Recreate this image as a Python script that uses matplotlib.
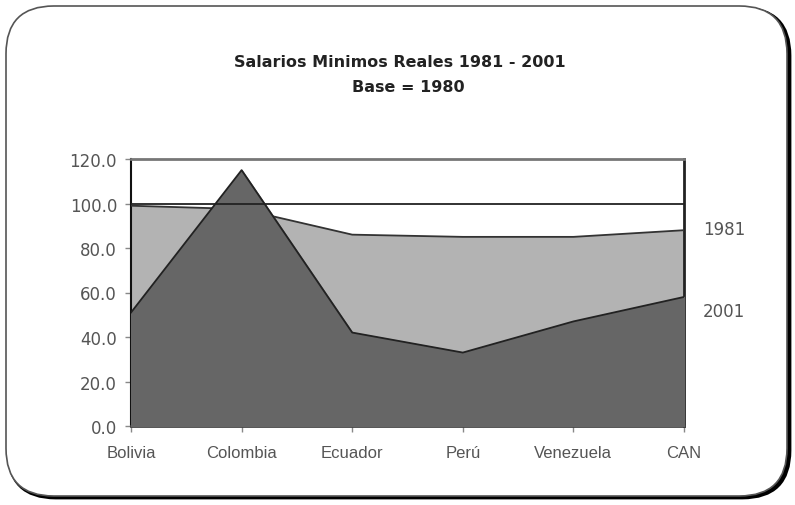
import matplotlib.pyplot as plt
from matplotlib.patches import FancyBboxPatch

# -- datos ---------------------------------------------------------------
paises = ["Bolivia", "Colombia", "Ecuador", "Perú", "Venezuela", "CAN"]
sal_1981 = [99.0, 97.5, 86.0, 85.0, 85.0, 88.0]
sal_2001 = [51.0, 115.0, 42.0, 33.0, 47.0, 58.0]
yticks = [0, 20, 40, 60, 80, 100, 120]

plt.rcParams['font.family'] = ['Liberation Sans', 'DejaVu Sans']

fig = plt.figure(figsize=(7.95, 5.06), dpi=100)

# -- marco redondeado con sombra ------------------------------------------
W, H = 795, 506
sombra = FancyBboxPatch((8 / W, 7 / H), 782 / W, 490 / H,
                        boxstyle="round,pad=0,rounding_size=0.06",
                        transform=fig.transFigure, fc="black", ec="black",
                        lw=2, zorder=0, mutation_aspect=W / H)
marco = FancyBboxPatch((6 / W, 9 / H), 781 / W, 490 / H,
                       boxstyle="round,pad=0,rounding_size=0.06",
                       transform=fig.transFigure, fc="white", ec="#555555",
                       lw=1.2, zorder=1, mutation_aspect=W / H)
fig.patches.extend([sombra, marco])

ax = fig.add_axes([131 / W, 1 - 427 / H, 553 / W, 267 / H])
ax.set_zorder(2)
x = list(range(len(paises)))

ax.fill_between(x, 0, sal_1981, color="#b3b3b3", zorder=2)
ax.plot(x, sal_1981, color="#333333", lw=1.3, zorder=3)
ax.fill_between(x, 0, sal_2001, color="#666666", zorder=4)
ax.plot(x, sal_2001, color="#222222", lw=1.3, zorder=5)
ax.axhline(100, color="#222222", lw=1.3, zorder=6)

ax.set_xlim(0, len(paises) - 1)
ax.set_ylim(0, 120)
ax.set_yticks(yticks)
ax.set_yticklabels([f"{v:.1f}" for v in yticks], family="DejaVu Sans",
                   fontsize=12)
ax.set_xticks(x)
ax.set_xticklabels(paises, fontsize=12)
ax.tick_params(axis="both", colors="#888888", labelcolor="#555555",
               length=4, width=1)
ax.tick_params(axis="x", pad=10)
ax.tick_params(axis="y", pad=6)

for lado in ["top", "right"]:
    ax.spines[lado].set_color("#555555")
    ax.spines[lado].set_linewidth(2)
ax.spines["top"].set_color("#777777")
ax.spines["right"].set_color("#222222")
ax.spines["left"].set_color("#111111")
ax.spines["left"].set_linewidth(1.5)
ax.spines["bottom"].set_color("#444444")
ax.spines["bottom"].set_linewidth(2)

# etiquetas de serie
ax.text(1.034, 88.5 / 120, "1981", transform=ax.transAxes, fontsize=12,
        family="DejaVu Sans", color="#555555", va="center", ha="left")
ax.text(1.034, 51.5 / 120, "2001", transform=ax.transAxes, fontsize=12,
        family="DejaVu Sans", color="#555555", va="center", ha="left")

fig.text(400 / W, 1 - 63 / H, "Salarios Minimos Reales 1981 - 2001",
         ha="center", va="center", fontsize=11.5, fontweight="bold",
         family="DejaVu Sans", color="#222222", zorder=3)
fig.text(408 / W, 1 - 88 / H, "Base = 1980",
         ha="center", va="center", fontsize=11.5, fontweight="bold",
         family="DejaVu Sans", color="#222222", zorder=3)

fig.savefig("out.png", dpi=100)
